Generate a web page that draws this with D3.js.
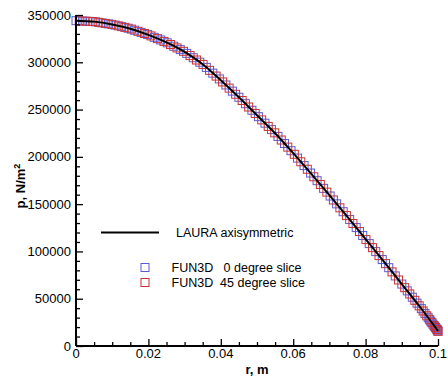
<!DOCTYPE html>
<html>
<head>
<meta charset="utf-8">
<script src="https://cdn.jsdelivr.net/npm/d3@7"></script>
<style>
  body { margin: 0; background: #fff; }
  svg { display: block; }
  text { font-family: "Liberation Sans", Arial, Helvetica, sans-serif; fill: #000; }
</style>
</head>
<body>
<svg id="chart" width="448" height="381"></svg>
<script>
// LAURA axisymmetric surface pressure
const lauraR = [0, 0.005, 0.01, 0.015, 0.02, 0.025, 0.03, 0.035, 0.04, 0.045, 0.05,
                0.055, 0.06, 0.065, 0.07, 0.075, 0.08, 0.085, 0.09, 0.095, 0.1];
const lauraP = [344000, 343000, 340000, 335500, 329000, 321000, 311000, 298000, 281000, 263000, 244000,
                225000, 204000, 182000, 159500, 136500, 113000, 89500, 65500, 41500, 16000];

// FUN3D, 0 degree slice
const fun0R = [0, 0.0018, 0.0036, 0.0054, 0.0072, 0.009, 0.0108, 0.0126, 0.0144, 0.0162,
               0.018, 0.0198, 0.0216, 0.0234, 0.0252, 0.027, 0.0288, 0.0306, 0.0324, 0.0342,
               0.036, 0.0378, 0.0396, 0.0414, 0.0432, 0.045, 0.0468, 0.0486, 0.0504, 0.0522,
               0.054, 0.0558, 0.0576, 0.0594, 0.0612, 0.063, 0.0648, 0.0666, 0.0684, 0.0702,
               0.072, 0.0738, 0.0756, 0.0774, 0.0792, 0.081, 0.0828, 0.0846, 0.0864, 0.0882,
               0.09, 0.0915, 0.0929, 0.0942, 0.0954, 0.0964, 0.0973, 0.098, 0.0986, 0.0991,
               0.0995, 0.0998, 0.1];
const fun0P = [344000, 343600, 343300, 342800, 341700, 340600, 339300, 337700, 336000, 333900,
               331600, 329300, 326400, 323600, 320600, 317000, 313400, 309400, 304800, 300100,
               294600, 288500, 282400, 276000, 269500, 263000, 256200, 249300, 242500, 235600,
               228800, 221600, 214100, 206500, 198700, 190800, 182900, 174800, 166700, 158600,
               150300, 142000, 133700, 125200, 116800, 108300, 99800, 91400, 82800, 74100,
               65500, 58300, 51600, 45300, 39500, 34400, 29800, 26200, 23100, 20600,
               18600, 17000, 16000];

// FUN3D, 45 degree slice
const fun45R = [0.0009, 0.0027, 0.0045, 0.0063, 0.0081, 0.0099, 0.0117, 0.0135, 0.0153, 0.0171,
                0.0189, 0.0207, 0.0225, 0.0243, 0.0261, 0.0279, 0.0297, 0.0315, 0.0333, 0.0351,
                0.0369, 0.0387, 0.0405, 0.0423, 0.0441, 0.0459, 0.0477, 0.0495, 0.0513, 0.0531,
                0.0549, 0.0567, 0.0585, 0.0603, 0.0621, 0.0639, 0.0657, 0.0675, 0.0693, 0.0711,
                0.0729, 0.0747, 0.0765, 0.0783, 0.0801, 0.0819, 0.0837, 0.0855, 0.0873, 0.0891,
                0.0908, 0.0922, 0.0936, 0.0948, 0.0959, 0.0969, 0.0977, 0.0983, 0.0989, 0.0993,
                0.0997, 0.1];
const fun45P = [343800, 343500, 343100, 342200, 341100, 340100, 338500, 336900, 335100, 332800,
                330400, 327900, 325000, 322100, 318800, 315200, 311600, 307100, 302400, 297700,
                291500, 285400, 279200, 272700, 266200, 259600, 252700, 245900, 239100, 232200,
                225400, 217800, 210300, 202700, 194800, 186900, 178900, 170800, 162700, 154400,
                146100, 137900, 129500, 121000, 112500, 104000, 95600, 87100, 78400, 69800,
                61700, 55000, 48300, 42500, 37000, 31900, 27800, 24700, 21600, 19600,
                17500, 15500];

// Axis ticks
const xMajor = [0, 0.02, 0.04, 0.06, 0.08, 0.1];
const xMajorLabels = ["0", "0.02", "0.04", "0.06", "0.08", "0.1"];
const yMajor = [0, 50000, 100000, 150000, 200000, 250000, 300000, 350000];
const yMajorLabels = ["0", "50000", "100000", "150000", "200000", "250000", "300000", "350000"];
const xMinorStep = 0.005;
const yMinorStep = 10000;

const legendEntries = ["LAURA axisymmetric", "FUN3D   0 degree slice", "FUN3D  45 degree slice"];

const svg = d3.select("#chart");
const x = d3.scaleLinear().domain([0, 0.1]).range([76, 438]);
const y = d3.scaleLinear().domain([0, 350000]).range([346, 15]);

const blue = "#5a5ad6";
const red = "#cc3030";
const box = 8;

function squares(rs, ps, color) {
  svg.append("g").selectAll("rect")
    .data(rs.map((r, i) => [r, ps[i]]))
    .join("rect")
    .attr("x", d => x(d[0]) - box / 2)
    .attr("y", d => y(d[1]) - box / 2)
    .attr("width", box)
    .attr("height", box)
    .attr("fill", "none")
    .attr("stroke", color)
    .attr("stroke-width", 1);
}
squares(fun0R, fun0P, blue);
squares(fun45R, fun45P, red);

// LAURA line
const line = d3.line()
  .x(d => x(d[0]))
  .y(d => y(d[1]))
  .curve(d3.curveMonotoneX);
svg.append("path")
  .datum(lauraR.map((r, i) => [r, lauraP[i]]))
  .attr("d", line)
  .attr("fill", "none")
  .attr("stroke", "#000")
  .attr("stroke-width", 2);

// Axes with inward ticks
const xMinor = d3.range(0, 0.1 + 1e-9, xMinorStep).filter(v => !xMajor.some(m => Math.abs(m - v) < 1e-9));
const yMinor = d3.range(0, 350000 + 1, yMinorStep).filter(v => v % 50000 !== 0);

const xAxis = d3.axisTop(x).tickValues(xMajor).tickSize(7).tickFormat("");
const xAxisMinor = d3.axisTop(x).tickValues(xMinor).tickSize(4).tickFormat("");
const yAxis = d3.axisRight(y).tickValues(yMajor).tickSize(7).tickFormat("");
const yAxisMinor = d3.axisRight(y).tickValues(yMinor).tickSize(4).tickFormat("");

function styleAxis(g) {
  g.selectAll("path.domain").attr("stroke", "#000").attr("stroke-width", 2);
  g.selectAll(".tick line").attr("stroke", "#000").attr("stroke-width", 1.3);
}
svg.append("g").attr("transform", "translate(0,346)").call(xAxisMinor).call(styleAxis)
  .select("path.domain").remove();
svg.append("g").attr("transform", "translate(76,0)").call(yAxisMinor).call(styleAxis)
  .select("path.domain").remove();
svg.append("g").attr("transform", "translate(0,346)").call(xAxis).call(styleAxis)
  .select("path.domain").attr("d", `M${x(0)},0H${x(0.1)}`);
svg.append("g").attr("transform", "translate(76,0)").call(yAxis).call(styleAxis)
  .select("path.domain").attr("d", `M0,${y(0)}V${y(350000)}`);

// Tick labels
svg.append("g").selectAll("text")
  .data(xMajor)
  .join("text")
  .attr("x", d => x(d))
  .attr("y", 358)
  .attr("text-anchor", "middle")
  .attr("font-size", 13)
  .text((d, i) => xMajorLabels[i]);

svg.append("g").selectAll("text")
  .data(yMajor)
  .join("text")
  .attr("x", 71)
  .attr("y", d => y(d) + 4.5)
  .attr("text-anchor", "end")
  .attr("font-size", 13)
  .text((d, i) => yMajorLabels[i]);

// Axis titles
svg.append("text")
  .attr("x", x(0.05))
  .attr("y", 374)
  .attr("text-anchor", "middle")
  .attr("font-size", 13)
  .attr("font-weight", "bold")
  .text("r, m");

const yt = svg.append("text")
  .attr("transform", "translate(25,186) rotate(-90)")
  .attr("text-anchor", "middle")
  .attr("font-size", 13)
  .attr("font-weight", "bold");
yt.append("tspan").text("p, N/m");
yt.append("tspan").attr("font-size", 9).attr("dy", -5).text("2");

// Legend
svg.append("line")
  .attr("x1", 101).attr("x2", 159)
  .attr("y1", 232.5).attr("y2", 232.5)
  .attr("stroke", "#000").attr("stroke-width", 2);
svg.append("text")
  .attr("x", 176).attr("y", 237)
  .attr("font-size", 12.5)
  .text(legendEntries[0]);

const legendMarks = [[blue, 267.5, legendEntries[1]], [red, 282.5, legendEntries[2]]];
legendMarks.forEach(([c, cy, label]) => {
  svg.append("rect")
    .attr("x", 141).attr("y", cy - 4)
    .attr("width", box).attr("height", box)
    .attr("fill", "none").attr("stroke", c).attr("stroke-width", 1);
  svg.append("text")
    .attr("x", 171.5).attr("y", cy + 4.5)
    .attr("font-size", 12.5)
    .style("white-space", "pre")
    .text(label);
});
</script>
</body>
</html>
